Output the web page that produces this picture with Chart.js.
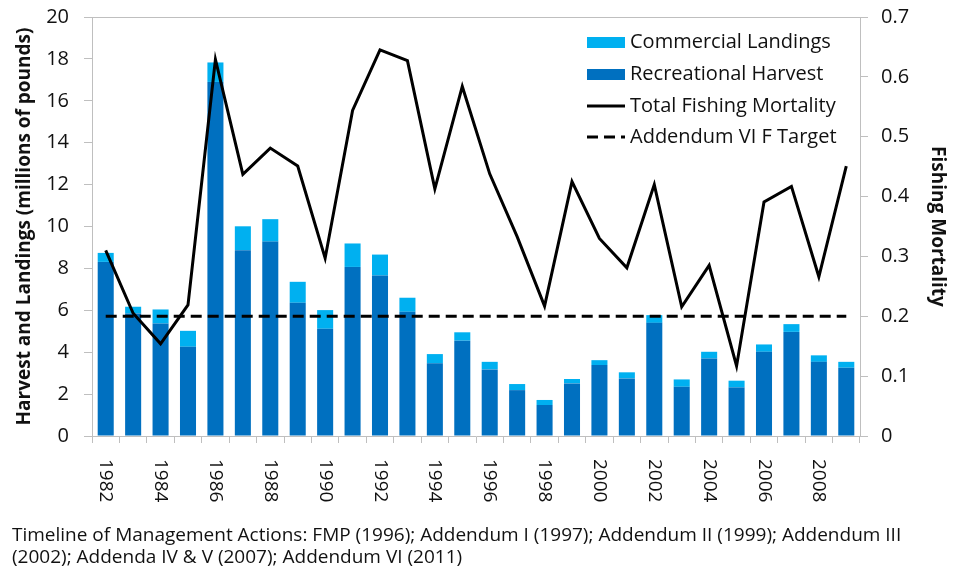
<!DOCTYPE html>
<html>
<head>
<meta charset="utf-8">
<script src="https://cdn.jsdelivr.net/npm/chart.js@4.4.1/dist/chart.umd.min.js"></script>
<style>
  html, body { margin: 0; padding: 0; background: #ffffff; }
  #wrap { position: relative; width: 960px; height: 571px; }
</style>
</head>
<body>
<div id="wrap"><canvas id="c" width="960" height="571"></canvas></div>
<script>
// ---- Data ----
const years = ['1982','1983','1984','1985','1986','1987','1988','1989','1990','1991',
  '1992','1993','1994','1995','1996','1997','1998','1999','2000','2001',
  '2002','2003','2004','2005','2006','2007','2008','2009'];
const recreationalHarvest = [8.31, 5.85, 5.37, 4.26, 16.90, 8.87, 9.28, 6.36, 5.12, 8.07,
  7.66, 5.93, 3.47, 4.55, 3.18, 2.19, 1.48, 2.51, 3.39, 2.75,
  5.40, 2.35, 3.70, 2.32, 4.02, 4.97, 3.54, 3.26];
const commercialLandings = [0.43, 0.32, 0.67, 0.76, 0.93, 1.14, 1.07, 1.00, 0.89, 1.12,
  1.00, 0.67, 0.44, 0.40, 0.36, 0.29, 0.24, 0.21, 0.23, 0.29,
  0.37, 0.35, 0.32, 0.32, 0.35, 0.37, 0.31, 0.28];
const totalFishingMortality = [0.310, 0.205, 0.154, 0.219, 0.629, 0.437, 0.481, 0.451, 0.297, 0.544,
  0.645, 0.627, 0.413, 0.584, 0.438, 0.333, 0.217, 0.425, 0.330, 0.281,
  0.420, 0.216, 0.285, 0.117, 0.391, 0.417, 0.266, 0.451];
const fTarget = years.map(() => 0.2); // Addendum VI F target = 0.2 in every year
const leftTicks = [0, 2, 4, 6, 8, 10, 12, 14, 16, 18, 20];
const rightTicks = [0, 0.1, 0.2, 0.3, 0.4, 0.5, 0.6, 0.7];
const captionLines = [
  'Timeline of Management Actions: FMP (1996); Addendum I (1997); Addendum II (1999); Addendum III',
  '(2002); Addenda IV & V (2007); Addendum VI (2011)'
];

const FONT = "'Open Sans', 'DejaVu Sans', sans-serif";
const TEXT = '#111111';
const AXIS = '#bfbfbf';
const LIGHT = '#00b0f0';
const DARK = '#0070c0';

const legendItems = [
  { text: 'Commercial Landings', kind: 'box', color: LIGHT },
  { text: 'Recreational Harvest', kind: 'box', color: DARK },
  { text: 'Total Fishing Mortality', kind: 'line', dash: [] },
  { text: 'Addendum VI F Target', kind: 'line', dash: [11, 6] }
];

const decorPlugin = {
  id: 'decor',
  afterDraw(chart) {
    const ctx = chart.ctx;
    const ca = chart.chartArea;
    const xs = chart.scales.x;
    ctx.save();
    // top frame line
    ctx.strokeStyle = AXIS; ctx.lineWidth = 1;
    ctx.beginPath(); ctx.moveTo(ca.left, ca.top + 0.5); ctx.lineTo(ca.right, ca.top + 0.5); ctx.stroke();

    // x tick labels, rotated clockwise (every other year)
    ctx.fillStyle = TEXT;
    ctx.font = '19px ' + FONT;
    ctx.textAlign = 'left';
    ctx.textBaseline = 'middle';
    years.forEach((y, i) => {
      if (i % 2 !== 0) return;
      const x = xs.getPixelForValue(i);
      ctx.save();
      ctx.translate(x, ca.bottom + 23);
      ctx.rotate(Math.PI / 2);
      ctx.fillText(y, 0, 0);
      ctx.restore();
    });

    // legend
    ctx.font = '20px ' + FONT;
    const lx = 587, tx = 630, rowY = [42, 74, 106, 137];
    legendItems.forEach((it, i) => {
      const y = rowY[i];
      if (it.kind === 'box') {
        ctx.fillStyle = it.color;
        ctx.fillRect(lx, y - 5, 38, 11);
      } else {
        ctx.strokeStyle = '#000'; ctx.lineWidth = 3;
        ctx.setLineDash(it.dash);
        ctx.beginPath(); ctx.moveTo(lx, y); ctx.lineTo(lx + 38, y); ctx.stroke();
        ctx.setLineDash([]);
      }
      ctx.fillStyle = TEXT;
      ctx.textAlign = 'left';
      ctx.fillText(it.text, tx, y);
    });

    // caption
    ctx.font = '19px ' + FONT;
    ctx.fillStyle = TEXT;
    ctx.fillText(captionLines[0], 12, 536);
    ctx.fillText(captionLines[1], 12, 558);
    ctx.restore();
  }
};

new Chart(document.getElementById('c'), {
  data: {
    labels: years,
    datasets: [
      { type: 'line', label: 'Total Fishing Mortality', data: totalFishingMortality, yAxisID: 'y2',
        borderColor: '#000', borderWidth: 3, pointRadius: 0, tension: 0, order: 0 },
      { type: 'line', label: 'Addendum VI F Target', data: fTarget, yAxisID: 'y2',
        borderColor: '#000', borderWidth: 3, borderDash: [11, 6], pointRadius: 0, order: 0 },
      { type: 'bar', label: 'Recreational Harvest', data: recreationalHarvest, yAxisID: 'y',
        backgroundColor: DARK, stack: 's', order: 1, barPercentage: 0.585, categoryPercentage: 1 },
      { type: 'bar', label: 'Commercial Landings', data: commercialLandings, yAxisID: 'y',
        backgroundColor: LIGHT, stack: 's', order: 1, barPercentage: 0.585, categoryPercentage: 1 }
    ]
  },
  options: {
    responsive: false,
    animation: false,
    layout: { padding: { top: 17, left: 0, right: 0, bottom: 0 } },
    plugins: { legend: { display: false }, tooltip: { enabled: false } },
    scales: {
      x: {
        stacked: true, offset: true,
        grid: { display: true, drawOnChartArea: false, drawTicks: true, tickLength: 7, color: AXIS, offset: true },
        border: { color: AXIS },
        ticks: { display: false, autoSkip: false },
        afterFit(s) { s.height = 135; s.paddingLeft = 0; s.paddingRight = 0; }
      },
      y: {
        position: 'left', stacked: true, min: 0, max: 20,
        afterBuildTicks(s) { s.ticks = leftTicks.map(v => ({ value: v })); },
        ticks: { font: { family: FONT, size: 20 }, color: TEXT, padding: 15 },
        grid: { drawOnChartArea: false, tickLength: 8, color: AXIS },
        border: { color: AXIS },
        title: { display: true, text: 'Harvest and Landings (millions of pounds)',
          font: { family: FONT, size: 19, weight: 'bold' }, color: TEXT, padding: { top: 13, bottom: 0 } },
        afterFit(s) { s.width = 92; s.paddingTop = 0; s.paddingBottom = 0; }
      },
      y2: {
        position: 'right', min: 0, max: 0.7,
        afterBuildTicks(s) { s.ticks = rightTicks.map(v => ({ value: v })); },
        ticks: { font: { family: FONT, size: 20 }, color: TEXT, padding: 13,
          callback: v => (v === 0 ? '0' : v.toFixed(1)) },
        grid: { drawOnChartArea: false, tickLength: 8, color: AXIS },
        border: { color: AXIS },
        title: { display: true, text: 'Fishing Mortality',
          font: { family: FONT, size: 19, weight: 'bold' }, color: TEXT, padding: { top: 11, bottom: 0 } },
        afterFit(s) { s.width = 100; s.paddingTop = 0; s.paddingBottom = 0; }
      }
    }
  },
  plugins: [decorPlugin]
});
</script>
</body>
</html>
